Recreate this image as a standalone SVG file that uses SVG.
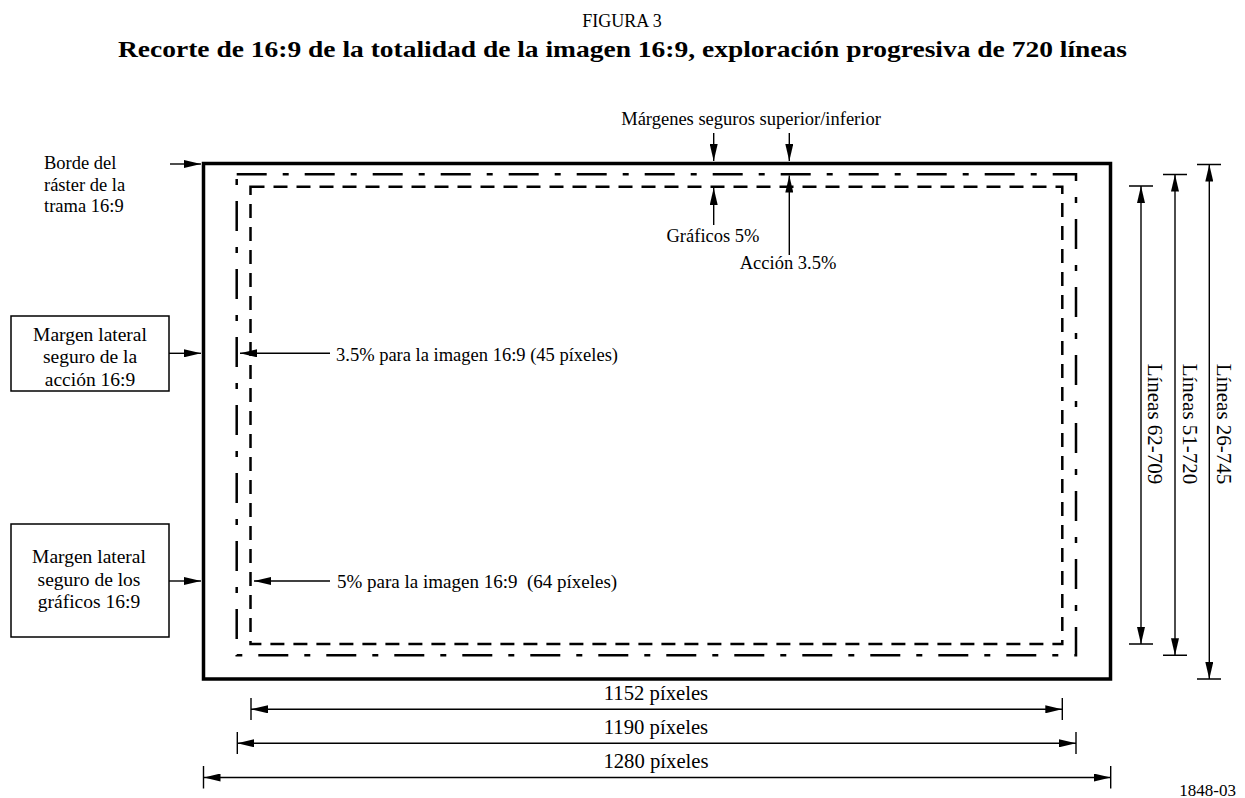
<svg xmlns="http://www.w3.org/2000/svg" width="1245" height="798" viewBox="0 0 1245 798">
<style>
text{font-family:"Liberation Serif","Times New Roman",serif;font-size:18.5px;fill:#000}
.b{font-weight:bold;font-size:23px}
.c{text-anchor:middle}
.bx{font-size:19.5px}
.dl{font-size:20.7px}
.vl{font-size:21px}
.thin{stroke:#000;stroke-width:1.4;fill:none}
.arr{stroke:#000;stroke-width:1.4;fill:none;marker-end:url(#ah)}
.dim{stroke:#000;stroke-width:1.4;fill:none;marker-start:url(#ah);marker-end:url(#ah)}
.box{fill:#fff;stroke:#000;stroke-width:1.5}
</style>
<defs>
<marker id="ah" viewBox="0 0 17 8" refX="17" refY="4" markerWidth="17" markerHeight="8" orient="auto-start-reverse" markerUnits="userSpaceOnUse">
<path d="M0,0 L17,4 L0,8 z" fill="#000"/>
</marker>
</defs>
<rect width="1245" height="798" fill="#fff"/>
<g id="title">
<text class="c" x="622" y="27" style="font-size:18px">FIGURA 3</text>
<text class="c b" x="622.5" y="57" textLength="1009" lengthAdjust="spacingAndGlyphs">Recorte de 16:9 de la totalidad de la imagen 16:9, exploración progresiva de 720 líneas</text>
</g>
<g id="raster">
<rect x="203.5" y="163.5" width="907" height="515.5" fill="none" stroke="#000" stroke-width="3.5"/>
</g>
<g id="action-safe">
<rect x="236.7" y="174.3" width="839.3" height="481" fill="none" stroke="#000" stroke-width="2.5" stroke-dasharray="30 16 6 16"/>
</g>
<g id="graphics-safe">
<rect x="250.5" y="186.7" width="811.8" height="457.3" fill="none" stroke="#000" stroke-width="2.5" stroke-dasharray="14 9"/>
</g>
<g id="label-borde">
<text x="44" y="169">Borde del</text>
<text x="44" y="191">ráster de la</text>
<text x="44" y="212">trama 16:9</text>
</g>
<g id="box-accion">
<rect class="box" x="11" y="316" width="158" height="75"/>
<text class="c bx" x="90" y="340.5">Margen lateral</text>
<text class="c bx" x="90" y="363.3">seguro de la</text>
<text class="c bx" x="90" y="386">acción 16:9</text>
</g>
<g id="box-graficos">
<rect class="box" x="11" y="524" width="158" height="113"/>
<text class="c bx" x="89" y="563">Margen lateral</text>
<text class="c bx" x="89" y="586">seguro de los</text>
<text class="c bx" x="89" y="607.5">gráficos 16:9</text>
</g>
<g id="labels">
<text class="c" x="751" y="125">Márgenes seguros superior/inferior</text>
<text class="c" x="713" y="242">Gráficos 5%</text>
<text class="c" x="788" y="269">Acción 3.5%</text>
<text x="336" y="360.5">3.5% para la imagen 16:9 (45 píxeles)</text>
<text x="337" y="587.5" style="font-size:19px" xml:space="preserve">5% para la imagen 16:9  (64 píxeles)</text>
<text class="c vl" transform="translate(1148,424) rotate(90)">Líneas 62-709</text>
<text class="c vl" transform="translate(1182.7,424) rotate(90)">Líneas 51-720</text>
<text class="c vl" transform="translate(1216.7,424) rotate(90)">Líneas 26-745</text>
<text class="c dl" x="656" y="699.5">1152 píxeles</text>
<text class="c dl" x="656" y="733.5">1190 píxeles</text>
<text class="c dl" x="656" y="767.5">1280 píxeles</text>
<text x="1236" y="796" style="text-anchor:end;font-size:17px">1848-03</text>
</g>
<g id="connectors">
<line class="arr" x1="170" y1="164" x2="201" y2="164"/>
<line class="arr" x1="169" y1="353.3" x2="201" y2="353.3"/>
<line class="arr" x1="169" y1="581" x2="201" y2="581"/>
<line class="arr" x1="330" y1="353.3" x2="240" y2="353.3"/>
<line class="arr" x1="330" y1="581" x2="254" y2="581"/>
<line class="arr" x1="713.7" y1="133" x2="713.7" y2="161"/>
<line class="arr" x1="789.3" y1="133" x2="789.3" y2="161"/>
<line class="arr" x1="713.7" y1="225" x2="713.7" y2="188"/>
<line class="arr" x1="789.3" y1="255" x2="789.3" y2="175.5"/>
<line class="dim" x1="1141" y1="186" x2="1141" y2="644"/>
<line class="dim" x1="1175" y1="174.5" x2="1175" y2="655.3"/>
<line class="dim" x1="1209.3" y1="164.5" x2="1209.3" y2="679"/>
<line class="dim" x1="251" y1="709.3" x2="1062.3" y2="709.3"/>
<line class="dim" x1="237.3" y1="743.3" x2="1076" y2="743.3"/>
<line class="dim" x1="203.5" y1="777.5" x2="1110.7" y2="777.5"/>
<path class="thin" d="M1129,186H1153M1129,644H1153M1163,174.5H1187M1163,655.3H1187M1197,164.5H1221M1197,679H1221M251,698V720M1062.3,698V720M237.3,732V754M1076,732V754M203.5,766V788.5M1110.7,766V788.5"/>
</g>
</svg>
